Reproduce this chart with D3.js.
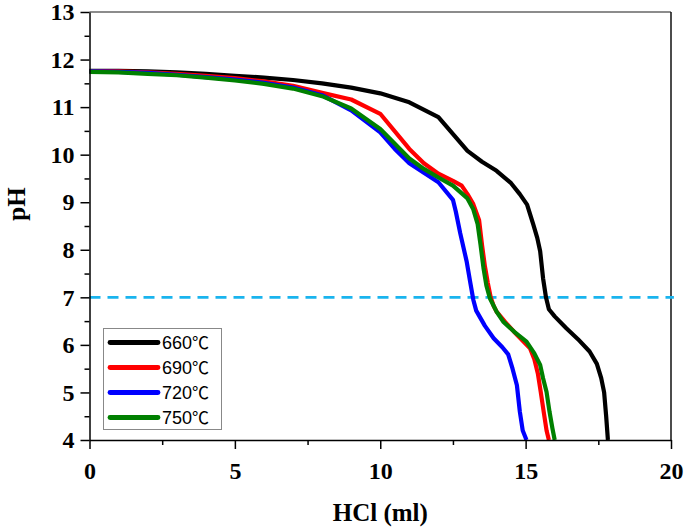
<!DOCTYPE html>
<html>
<head>
<meta charset="utf-8">
<script src="https://cdn.jsdelivr.net/npm/d3@7"></script>
<style>
  body { margin: 0; background: #fff; }
  svg { display: block; }
</style>
</head>
<body>
<svg id="chart" width="685" height="528"></svg>
<script>
// ---- data ----
const seriesTemps = ["660", "690", "720", "750"];
const tempUnit = "℃";
const seriesColors = ["#000000", "#ff0000", "#0000ff", "#008000"];

const x660 = [0,1,2,3,4,5,6,7,8,9,10,11,12,13,13.5,14,14.5,14.8,15.05,15.26,15.4,15.5,15.6,15.7,15.8,16.0,16.4,16.8,17.2,17.45,17.6,17.7,17.77,17.83];
const ph660 = [11.76,11.76,11.75,11.73,11.70,11.66,11.62,11.57,11.50,11.41,11.29,11.10,10.79,10.08,9.85,9.66,9.40,9.17,8.95,8.54,8.25,7.97,7.40,7.00,6.75,6.60,6.35,6.12,5.86,5.60,5.30,5.00,4.50,4.00];

const x690 = [0,1,2,3,4,5,6,7,8,9,10,11,11.5,12,12.5,12.8,13.0,13.2,13.4,13.5,13.6,13.7,13.8,13.9,14.0,14.3,14.7,15.15,15.3,15.42,15.52,15.62,15.72,15.8];
const ph690 = [11.75,11.75,11.73,11.70,11.66,11.61,11.54,11.45,11.30,11.16,10.86,10.12,9.82,9.60,9.45,9.35,9.17,8.96,8.62,8.10,7.65,7.30,7.00,6.82,6.70,6.48,6.21,5.93,5.70,5.40,5.01,4.60,4.20,4.00];

const x720 = [0,1,2,3,4,5,6,7,8,9,10,10.5,11,11.5,12,12.5,12.6,12.75,12.97,13.1,13.2,13.3,13.6,13.9,14.2,14.4,14.55,14.7,14.8,14.9,15.03];
const ph720 = [11.75,11.74,11.72,11.68,11.63,11.58,11.51,11.41,11.25,10.93,10.47,10.12,9.82,9.62,9.42,9.05,8.80,8.35,7.76,7.30,6.95,6.72,6.40,6.14,5.95,5.80,5.50,5.15,4.60,4.20,4.00];

const x750 = [0,1,2,3,4,5,6,7,8,9,10,11,11.5,12,12.5,13,13.2,13.35,13.45,13.55,13.65,13.77,14.0,14.23,14.6,15.03,15.3,15.5,15.6,15.72,15.82,15.92,16.0];
const ph750 = [11.74,11.73,11.70,11.67,11.62,11.56,11.49,11.39,11.23,10.97,10.54,9.92,9.70,9.52,9.35,9.08,8.85,8.54,8.10,7.62,7.25,6.98,6.70,6.49,6.28,6.07,5.82,5.58,5.30,5.01,4.60,4.25,4.00];

const xTicks = [0,5,10,15,20];
const xMinorTicks = [2.5,7.5,12.5,17.5];
const yTicks = [4,5,6,7,8,9,10,11,12,13];
const yMinorTicks = [4.5,5.5,6.5,7.5,8.5,9.5,10.5,11.5,12.5];
const refPH = 7;
const xLabel = "HCl (ml)";
const yLabel = "pH";

// ---- layout ----
const svg = d3.select("#chart");
const L = 89.5, R = 671, T = 12, B = 440;
const x = d3.scaleLinear().domain([0, 20]).range([L, R]);
const y = d3.scaleLinear().domain([4, 13]).range([B, T]);

const serif = "'Liberation Serif','Times New Roman',serif";
const sans = "'Liberation Sans',Arial,sans-serif";
const cjk = "'Noto Sans CJK SC','Liberation Sans',sans-serif";

// frame top/right
svg.append("line").attr("x1", L).attr("x2", R).attr("y1", T).attr("y2", T)
  .attr("stroke", "#666").attr("stroke-width", 1.5);
svg.append("line").attr("x1", R).attr("x2", R).attr("y1", T).attr("y2", B)
  .attr("stroke", "#111").attr("stroke-width", 1.5);

// reference dashed line
svg.append("line")
  .attr("x1", x(0)).attr("x2", x(20.1))
  .attr("y1", y(refPH)).attr("y2", y(refPH))
  .attr("stroke", "#1ab4ee").attr("stroke-width", 2.6)
  .attr("stroke-dasharray", "11,7");

// series
const allSeries = [[x660, ph660], [x690, ph690], [x720, ph720], [x750, ph750]];
const line = d3.line().x(d => x(d[0])).y(d => y(d[1])).curve(d3.curveLinear);
allSeries.forEach((s, i) => {
  const pts = s[0].map((v, j) => [v, s[1][j]]);
  svg.append("path").datum(pts)
    .attr("d", line)
    .attr("fill", "none")
    .attr("stroke", seriesColors[i])
    .attr("stroke-width", 4.2)
    .attr("stroke-linejoin", "round");
});

// axes
const xAxis = d3.axisBottom(x).tickValues(xTicks).tickSize(9).tickSizeOuter(0).tickPadding(13).tickFormat(d3.format("d"));
const gx = svg.append("g").attr("transform", `translate(0,${B})`).call(xAxis);
gx.selectAll(".tick line").attr("stroke", "#000").attr("stroke-width", 1.5);
gx.select(".domain").attr("stroke", "#000").attr("stroke-width", 1.5);
gx.selectAll("text").attr("font-family", serif).attr("font-weight", "bold").attr("font-size", 24).attr("fill", "#000");
const xMinor = d3.axisBottom(x).tickValues(xMinorTicks).tickSize(5).tickSizeOuter(0).tickFormat("");
const gxm = svg.append("g").attr("transform", `translate(0,${B})`).call(xMinor);
gxm.select(".domain").remove();
gxm.selectAll(".tick line").attr("stroke", "#000").attr("stroke-width", 1.5);

const yAxis = d3.axisLeft(y).tickValues(yTicks).tickSize(9).tickSizeOuter(0).tickPadding(6).tickFormat(d3.format("d"));
const gy = svg.append("g").attr("transform", `translate(${L},0)`).call(yAxis);
gy.selectAll(".tick line").attr("stroke", "#000").attr("stroke-width", 1.5);
gy.select(".domain").attr("stroke", "#000").attr("stroke-width", 1.5);
gy.selectAll("text").attr("font-family", serif).attr("font-weight", "bold").attr("font-size", 24).attr("fill", "#000");
const yMinor = d3.axisLeft(y).tickValues(yMinorTicks).tickSize(5).tickSizeOuter(0).tickFormat("");
const gym = svg.append("g").attr("transform", `translate(${L},0)`).call(yMinor);
gym.select(".domain").remove();
gym.selectAll(".tick line").attr("stroke", "#000").attr("stroke-width", 1.5);

// axis labels
svg.append("text").attr("x", (L + R) / 2).attr("y", 521)
  .attr("text-anchor", "middle").attr("font-family", serif).attr("font-weight", "bold")
  .attr("font-size", 25).attr("fill", "#000").text(xLabel);
svg.append("text").attr("transform", "translate(25,204) rotate(-90)")
  .attr("text-anchor", "middle").attr("font-family", serif).attr("font-weight", "bold")
  .attr("font-size", 25).attr("fill", "#000").text(yLabel);

// legend
const lg = svg.append("g");
lg.append("rect").attr("x", 103.5).attr("y", 328.5).attr("width", 118).attr("height", 101)
  .attr("fill", "#fff").attr("stroke", "#888").attr("stroke-width", 1);
seriesTemps.forEach((n, i) => {
  const cy = 342.5 + i * 25;
  lg.append("line").attr("x1", 110).attr("x2", 158).attr("y1", cy).attr("y2", cy)
    .attr("stroke", seriesColors[i]).attr("stroke-width", 4.8).attr("stroke-linecap", "round");
  const t = lg.append("text").attr("x", 162).attr("y", cy).attr("dy", "0.36em")
    .attr("font-family", sans).attr("font-size", 18).attr("fill", "#000");
  t.append("tspan").text(n);
  t.append("tspan").attr("font-family", cjk).attr("font-size", 17).text(tempUnit);
});
</script>
</body>
</html>
